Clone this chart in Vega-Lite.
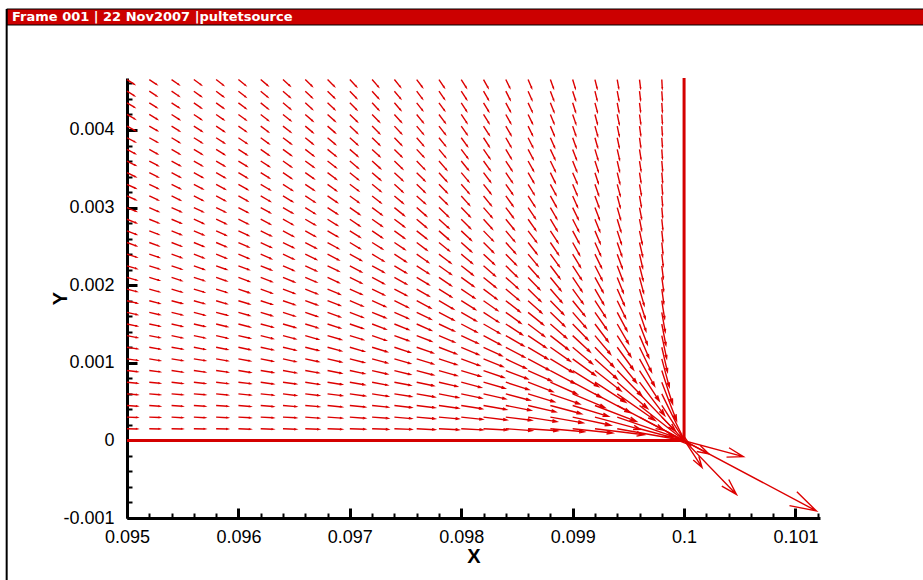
{
"$schema":"https://vega.github.io/schema/vega-lite/v6.json",
"width":693,"height":440,
"autosize":{"type":"none"},
"padding":{"left":127,"top":78,"right":103,"bottom":62},
"background":"white",
"config":{"view":{"stroke":null},"axis":{"grid":false,"labelFont":"Liberation Sans","titleFont":"Liberation Sans","labelColor":"#000","titleColor":"#000","domainColor":"#000","tickColor":"#000"}},
"datasets":{
"frame":[{"label":"Frame 001 | 22 Nov2007 |pultetsource"}],
"walls":[{"x":0.095,"y":0,"seq":1},{"x":0.1,"y":0,"seq":2},{"x":0.1,"y":0.00467,"seq":3}],
"vectors":[
{"x":0.095,"y":0.00015,"dir":1,"mag":11.8},{"x":0.095,"y":0.0003,"dir":2,"mag":11.8},{"x":0.095,"y":0.00045,"dir":4,"mag":11.8},{"x":0.095,"y":0.0006,"dir":5,"mag":11.8},{"x":0.095,"y":0.00075,"dir":6,"mag":11.8},{"x":0.095,"y":0.0009,"dir":7,"mag":11.8},{"x":0.095,"y":0.00105,"dir":8,"mag":11.8},{"x":0.095,"y":0.0012,"dir":9,"mag":11.8},{"x":0.095,"y":0.00135,"dir":11,"mag":11.6},{"x":0.095,"y":0.0015,"dir":12,"mag":11.6},{"x":0.095,"y":0.00165,"dir":13,"mag":11.6},{"x":0.095,"y":0.0018,"dir":14,"mag":11.6},{"x":0.095,"y":0.00195,"dir":15,"mag":11.3},{"x":0.095,"y":0.0021,"dir":16,"mag":11.3},{"x":0.095,"y":0.00225,"dir":17,"mag":11.3},{"x":0.095,"y":0.0024,"dir":18,"mag":11.3},{"x":0.095,"y":0.00255,"dir":20,"mag":11},{"x":0.095,"y":0.0027,"dir":21,"mag":11},{"x":0.095,"y":0.00285,"dir":22,"mag":11},{"x":0.095,"y":0.003,"dir":23,"mag":11},{"x":0.095,"y":0.00315,"dir":24,"mag":10.7},{"x":0.095,"y":0.0033,"dir":25,"mag":10.7},{"x":0.095,"y":0.00345,"dir":26,"mag":10.7},{"x":0.095,"y":0.0036,"dir":27,"mag":10.7},{"x":0.095,"y":0.00375,"dir":28,"mag":10.3},{"x":0.095,"y":0.0039,"dir":28,"mag":10.3},{"x":0.095,"y":0.00405,"dir":29,"mag":10.3},{"x":0.095,"y":0.0042,"dir":30,"mag":10.3},{"x":0.095,"y":0.00435,"dir":31,"mag":9.8},{"x":0.095,"y":0.0045,"dir":32,"mag":9.8},{"x":0.095,"y":0.00465,"dir":33,"mag":9.8},
{"x":0.0952,"y":0.00015,"dir":1,"mag":12.1},{"x":0.0952,"y":0.0003,"dir":2,"mag":12.1},{"x":0.0952,"y":0.00045,"dir":4,"mag":12.1},{"x":0.0952,"y":0.0006,"dir":5,"mag":12.1},{"x":0.0952,"y":0.00075,"dir":6,"mag":12.1},{"x":0.0952,"y":0.0009,"dir":7,"mag":12.1},{"x":0.0952,"y":0.00105,"dir":9,"mag":12.1},{"x":0.0952,"y":0.0012,"dir":10,"mag":12.1},{"x":0.0952,"y":0.00135,"dir":11,"mag":11.9},{"x":0.0952,"y":0.0015,"dir":12,"mag":11.9},{"x":0.0952,"y":0.00165,"dir":13,"mag":11.9},{"x":0.0952,"y":0.0018,"dir":15,"mag":11.9},{"x":0.0952,"y":0.00195,"dir":16,"mag":11.6},{"x":0.0952,"y":0.0021,"dir":17,"mag":11.6},{"x":0.0952,"y":0.00225,"dir":18,"mag":11.6},{"x":0.0952,"y":0.0024,"dir":19,"mag":11.6},{"x":0.0952,"y":0.00255,"dir":20,"mag":11.2},{"x":0.0952,"y":0.0027,"dir":21,"mag":11.2},{"x":0.0952,"y":0.00285,"dir":22,"mag":11.2},{"x":0.0952,"y":0.003,"dir":24,"mag":11.2},{"x":0.0952,"y":0.00315,"dir":25,"mag":10.9},{"x":0.0952,"y":0.0033,"dir":26,"mag":10.9},{"x":0.0952,"y":0.00345,"dir":27,"mag":10.9},{"x":0.0952,"y":0.0036,"dir":28,"mag":10.9},{"x":0.0952,"y":0.00375,"dir":29,"mag":10.4},{"x":0.0952,"y":0.0039,"dir":29,"mag":10.4},{"x":0.0952,"y":0.00405,"dir":30,"mag":10.4},{"x":0.0952,"y":0.0042,"dir":31,"mag":10.4},{"x":0.0952,"y":0.00435,"dir":32,"mag":9.9},{"x":0.0952,"y":0.0045,"dir":33,"mag":9.9},{"x":0.0952,"y":0.00465,"dir":34,"mag":9.9},
{"x":0.0954,"y":0.00015,"dir":1,"mag":12.4},{"x":0.0954,"y":0.0003,"dir":3,"mag":12.4},{"x":0.0954,"y":0.00045,"dir":4,"mag":12.4},{"x":0.0954,"y":0.0006,"dir":5,"mag":12.4},{"x":0.0954,"y":0.00075,"dir":7,"mag":12.4},{"x":0.0954,"y":0.0009,"dir":8,"mag":12.4},{"x":0.0954,"y":0.00105,"dir":9,"mag":12.4},{"x":0.0954,"y":0.0012,"dir":10,"mag":12.4},{"x":0.0954,"y":0.00135,"dir":12,"mag":12.2},{"x":0.0954,"y":0.0015,"dir":13,"mag":12.2},{"x":0.0954,"y":0.00165,"dir":14,"mag":12.2},{"x":0.0954,"y":0.0018,"dir":15,"mag":12.2},{"x":0.0954,"y":0.00195,"dir":17,"mag":11.8},{"x":0.0954,"y":0.0021,"dir":18,"mag":11.8},{"x":0.0954,"y":0.00225,"dir":19,"mag":11.8},{"x":0.0954,"y":0.0024,"dir":20,"mag":11.8},{"x":0.0954,"y":0.00255,"dir":21,"mag":11.4},{"x":0.0954,"y":0.0027,"dir":22,"mag":11.4},{"x":0.0954,"y":0.00285,"dir":23,"mag":11.4},{"x":0.0954,"y":0.003,"dir":24,"mag":11.4},{"x":0.0954,"y":0.00315,"dir":26,"mag":10.9},{"x":0.0954,"y":0.0033,"dir":27,"mag":10.9},{"x":0.0954,"y":0.00345,"dir":28,"mag":10.9},{"x":0.0954,"y":0.0036,"dir":29,"mag":10.9},{"x":0.0954,"y":0.00375,"dir":30,"mag":10.4},{"x":0.0954,"y":0.0039,"dir":31,"mag":10.4},{"x":0.0954,"y":0.00405,"dir":32,"mag":10.4},{"x":0.0954,"y":0.0042,"dir":33,"mag":10.4},{"x":0.0954,"y":0.00435,"dir":33,"mag":10},{"x":0.0954,"y":0.0045,"dir":34,"mag":10},{"x":0.0954,"y":0.00465,"dir":35,"mag":10},
{"x":0.0956,"y":0.00015,"dir":1,"mag":12.8},{"x":0.0956,"y":0.0003,"dir":3,"mag":12.8},{"x":0.0956,"y":0.00045,"dir":4,"mag":12.8},{"x":0.0956,"y":0.0006,"dir":5,"mag":12.8},{"x":0.0956,"y":0.00075,"dir":7,"mag":12.8},{"x":0.0956,"y":0.0009,"dir":8,"mag":12.8},{"x":0.0956,"y":0.00105,"dir":9,"mag":12.8},{"x":0.0956,"y":0.0012,"dir":11,"mag":12.5},{"x":0.0956,"y":0.00135,"dir":12,"mag":12.5},{"x":0.0956,"y":0.0015,"dir":13,"mag":12.5},{"x":0.0956,"y":0.00165,"dir":15,"mag":12.5},{"x":0.0956,"y":0.0018,"dir":16,"mag":12.1},{"x":0.0956,"y":0.00195,"dir":17,"mag":12.1},{"x":0.0956,"y":0.0021,"dir":18,"mag":12.1},{"x":0.0956,"y":0.00225,"dir":20,"mag":12.1},{"x":0.0956,"y":0.0024,"dir":21,"mag":11.7},{"x":0.0956,"y":0.00255,"dir":22,"mag":11.7},{"x":0.0956,"y":0.0027,"dir":23,"mag":11.7},{"x":0.0956,"y":0.00285,"dir":24,"mag":11.7},{"x":0.0956,"y":0.003,"dir":25,"mag":11.2},{"x":0.0956,"y":0.00315,"dir":27,"mag":11.2},{"x":0.0956,"y":0.0033,"dir":28,"mag":11.2},{"x":0.0956,"y":0.00345,"dir":29,"mag":11.2},{"x":0.0956,"y":0.0036,"dir":30,"mag":10.7},{"x":0.0956,"y":0.00375,"dir":31,"mag":10.7},{"x":0.0956,"y":0.0039,"dir":32,"mag":10.7},{"x":0.0956,"y":0.00405,"dir":33,"mag":10.7},{"x":0.0956,"y":0.0042,"dir":34,"mag":10.2},{"x":0.0956,"y":0.00435,"dir":35,"mag":10.2},{"x":0.0956,"y":0.0045,"dir":36,"mag":10.2},{"x":0.0956,"y":0.00465,"dir":36,"mag":10.2},
{"x":0.0958,"y":0.00015,"dir":1,"mag":13.2},{"x":0.0958,"y":0.0003,"dir":3,"mag":13.2},{"x":0.0958,"y":0.00045,"dir":4,"mag":13.2},{"x":0.0958,"y":0.0006,"dir":6,"mag":13.2},{"x":0.0958,"y":0.00075,"dir":7,"mag":13.2},{"x":0.0958,"y":0.0009,"dir":8,"mag":13.2},{"x":0.0958,"y":0.00105,"dir":10,"mag":13.2},{"x":0.0958,"y":0.0012,"dir":11,"mag":12.9},{"x":0.0958,"y":0.00135,"dir":13,"mag":12.9},{"x":0.0958,"y":0.0015,"dir":14,"mag":12.9},{"x":0.0958,"y":0.00165,"dir":15,"mag":12.9},{"x":0.0958,"y":0.0018,"dir":17,"mag":12.4},{"x":0.0958,"y":0.00195,"dir":18,"mag":12.4},{"x":0.0958,"y":0.0021,"dir":19,"mag":12.4},{"x":0.0958,"y":0.00225,"dir":20,"mag":12.4},{"x":0.0958,"y":0.0024,"dir":22,"mag":12},{"x":0.0958,"y":0.00255,"dir":23,"mag":12},{"x":0.0958,"y":0.0027,"dir":24,"mag":12},{"x":0.0958,"y":0.00285,"dir":25,"mag":12},{"x":0.0958,"y":0.003,"dir":26,"mag":11.4},{"x":0.0958,"y":0.00315,"dir":28,"mag":11.4},{"x":0.0958,"y":0.0033,"dir":29,"mag":11.4},{"x":0.0958,"y":0.00345,"dir":30,"mag":11.4},{"x":0.0958,"y":0.0036,"dir":31,"mag":10.9},{"x":0.0958,"y":0.00375,"dir":32,"mag":10.9},{"x":0.0958,"y":0.0039,"dir":33,"mag":10.9},{"x":0.0958,"y":0.00405,"dir":34,"mag":10.9},{"x":0.0958,"y":0.0042,"dir":35,"mag":10.3},{"x":0.0958,"y":0.00435,"dir":36,"mag":10.3},{"x":0.0958,"y":0.0045,"dir":37,"mag":10.3},{"x":0.0958,"y":0.00465,"dir":38,"mag":10.3},
{"x":0.096,"y":0.00015,"dir":2,"mag":13.7},{"x":0.096,"y":0.0003,"dir":3,"mag":13.7},{"x":0.096,"y":0.00045,"dir":5,"mag":13.7},{"x":0.096,"y":0.0006,"dir":6,"mag":13.7},{"x":0.096,"y":0.00075,"dir":7,"mag":13.7},{"x":0.096,"y":0.0009,"dir":9,"mag":13.7},{"x":0.096,"y":0.00105,"dir":10,"mag":13.4},{"x":0.096,"y":0.0012,"dir":12,"mag":13.4},{"x":0.096,"y":0.00135,"dir":13,"mag":13.4},{"x":0.096,"y":0.0015,"dir":15,"mag":13.4},{"x":0.096,"y":0.00165,"dir":16,"mag":12.9},{"x":0.096,"y":0.0018,"dir":17,"mag":12.9},{"x":0.096,"y":0.00195,"dir":19,"mag":12.9},{"x":0.096,"y":0.0021,"dir":20,"mag":12.9},{"x":0.096,"y":0.00225,"dir":21,"mag":12.4},{"x":0.096,"y":0.0024,"dir":23,"mag":12.4},{"x":0.096,"y":0.00255,"dir":24,"mag":12.4},{"x":0.096,"y":0.0027,"dir":25,"mag":12.4},{"x":0.096,"y":0.00285,"dir":26,"mag":11.8},{"x":0.096,"y":0.003,"dir":28,"mag":11.8},{"x":0.096,"y":0.00315,"dir":29,"mag":11.8},{"x":0.096,"y":0.0033,"dir":30,"mag":11.8},{"x":0.096,"y":0.00345,"dir":31,"mag":11.2},{"x":0.096,"y":0.0036,"dir":32,"mag":11.2},{"x":0.096,"y":0.00375,"dir":33,"mag":11.2},{"x":0.096,"y":0.0039,"dir":34,"mag":11.2},{"x":0.096,"y":0.00405,"dir":35,"mag":10.4},{"x":0.096,"y":0.0042,"dir":36,"mag":10.4},{"x":0.096,"y":0.00435,"dir":37,"mag":10.4},{"x":0.096,"y":0.0045,"dir":38,"mag":10.4},{"x":0.096,"y":0.00465,"dir":39,"mag":10.4},
{"x":0.0962,"y":0.00015,"dir":2,"mag":14.2},{"x":0.0962,"y":0.0003,"dir":3,"mag":14.2},{"x":0.0962,"y":0.00045,"dir":5,"mag":14.2},{"x":0.0962,"y":0.0006,"dir":6,"mag":14.2},{"x":0.0962,"y":0.00075,"dir":8,"mag":14.2},{"x":0.0962,"y":0.0009,"dir":9,"mag":14.2},{"x":0.0962,"y":0.00105,"dir":11,"mag":13.9},{"x":0.0962,"y":0.0012,"dir":12,"mag":13.9},{"x":0.0962,"y":0.00135,"dir":14,"mag":13.9},{"x":0.0962,"y":0.0015,"dir":15,"mag":13.9},{"x":0.0962,"y":0.00165,"dir":17,"mag":13.3},{"x":0.0962,"y":0.0018,"dir":18,"mag":13.3},{"x":0.0962,"y":0.00195,"dir":20,"mag":13.3},{"x":0.0962,"y":0.0021,"dir":21,"mag":13.3},{"x":0.0962,"y":0.00225,"dir":22,"mag":12.8},{"x":0.0962,"y":0.0024,"dir":24,"mag":12.8},{"x":0.0962,"y":0.00255,"dir":25,"mag":12.8},{"x":0.0962,"y":0.0027,"dir":26,"mag":12.8},{"x":0.0962,"y":0.00285,"dir":28,"mag":12.1},{"x":0.0962,"y":0.003,"dir":29,"mag":12.1},{"x":0.0962,"y":0.00315,"dir":30,"mag":12.1},{"x":0.0962,"y":0.0033,"dir":31,"mag":12.1},{"x":0.0962,"y":0.00345,"dir":32,"mag":11.4},{"x":0.0962,"y":0.0036,"dir":33,"mag":11.4},{"x":0.0962,"y":0.00375,"dir":35,"mag":11.4},{"x":0.0962,"y":0.0039,"dir":36,"mag":11.4},{"x":0.0962,"y":0.00405,"dir":37,"mag":10.8},{"x":0.0962,"y":0.0042,"dir":38,"mag":10.8},{"x":0.0962,"y":0.00435,"dir":39,"mag":10.8},{"x":0.0962,"y":0.0045,"dir":40,"mag":10.4},{"x":0.0962,"y":0.00465,"dir":40,"mag":10.4},
{"x":0.0964,"y":0.00015,"dir":2,"mag":14.8},{"x":0.0964,"y":0.0003,"dir":3,"mag":14.8},{"x":0.0964,"y":0.00045,"dir":5,"mag":14.8},{"x":0.0964,"y":0.0006,"dir":7,"mag":14.8},{"x":0.0964,"y":0.00075,"dir":8,"mag":14.8},{"x":0.0964,"y":0.0009,"dir":10,"mag":14.8},{"x":0.0964,"y":0.00105,"dir":12,"mag":14.4},{"x":0.0964,"y":0.0012,"dir":13,"mag":14.4},{"x":0.0964,"y":0.00135,"dir":15,"mag":14.4},{"x":0.0964,"y":0.0015,"dir":16,"mag":14.4},{"x":0.0964,"y":0.00165,"dir":18,"mag":13.8},{"x":0.0964,"y":0.0018,"dir":19,"mag":13.8},{"x":0.0964,"y":0.00195,"dir":21,"mag":13.8},{"x":0.0964,"y":0.0021,"dir":22,"mag":13.8},{"x":0.0964,"y":0.00225,"dir":24,"mag":13.1},{"x":0.0964,"y":0.0024,"dir":25,"mag":13.1},{"x":0.0964,"y":0.00255,"dir":26,"mag":13.1},{"x":0.0964,"y":0.0027,"dir":28,"mag":13.1},{"x":0.0964,"y":0.00285,"dir":29,"mag":12.4},{"x":0.0964,"y":0.003,"dir":30,"mag":12.4},{"x":0.0964,"y":0.00315,"dir":31,"mag":12.4},{"x":0.0964,"y":0.0033,"dir":33,"mag":12.4},{"x":0.0964,"y":0.00345,"dir":34,"mag":11.6},{"x":0.0964,"y":0.0036,"dir":35,"mag":11.6},{"x":0.0964,"y":0.00375,"dir":36,"mag":11.6},{"x":0.0964,"y":0.0039,"dir":37,"mag":11.6},{"x":0.0964,"y":0.00405,"dir":38,"mag":11},{"x":0.0964,"y":0.0042,"dir":39,"mag":11},{"x":0.0964,"y":0.00435,"dir":40,"mag":11},{"x":0.0964,"y":0.0045,"dir":41,"mag":10.5},{"x":0.0964,"y":0.00465,"dir":42,"mag":10.5},
{"x":0.0966,"y":0.00015,"dir":2,"mag":15.5},{"x":0.0966,"y":0.0003,"dir":4,"mag":15.5},{"x":0.0966,"y":0.00045,"dir":5,"mag":15.5},{"x":0.0966,"y":0.0006,"dir":7,"mag":15.5},{"x":0.0966,"y":0.00075,"dir":9,"mag":15.5},{"x":0.0966,"y":0.0009,"dir":10,"mag":15.1},{"x":0.0966,"y":0.00105,"dir":12,"mag":15.1},{"x":0.0966,"y":0.0012,"dir":14,"mag":15.1},{"x":0.0966,"y":0.00135,"dir":16,"mag":15.1},{"x":0.0966,"y":0.0015,"dir":17,"mag":14.3},{"x":0.0966,"y":0.00165,"dir":19,"mag":14.3},{"x":0.0966,"y":0.0018,"dir":20,"mag":14.3},{"x":0.0966,"y":0.00195,"dir":22,"mag":14.3},{"x":0.0966,"y":0.0021,"dir":23,"mag":13.6},{"x":0.0966,"y":0.00225,"dir":25,"mag":13.6},{"x":0.0966,"y":0.0024,"dir":26,"mag":13.6},{"x":0.0966,"y":0.00255,"dir":28,"mag":13.6},{"x":0.0966,"y":0.0027,"dir":29,"mag":12.7},{"x":0.0966,"y":0.00285,"dir":30,"mag":12.7},{"x":0.0966,"y":0.003,"dir":32,"mag":12.7},{"x":0.0966,"y":0.00315,"dir":33,"mag":12.7},{"x":0.0966,"y":0.0033,"dir":34,"mag":11.9},{"x":0.0966,"y":0.00345,"dir":35,"mag":11.9},{"x":0.0966,"y":0.0036,"dir":36,"mag":11.9},{"x":0.0966,"y":0.00375,"dir":38,"mag":11.9},{"x":0.0966,"y":0.0039,"dir":39,"mag":11.2},{"x":0.0966,"y":0.00405,"dir":40,"mag":11.2},{"x":0.0966,"y":0.0042,"dir":41,"mag":11.2},{"x":0.0966,"y":0.00435,"dir":42,"mag":10.6},{"x":0.0966,"y":0.0045,"dir":43,"mag":10.6},{"x":0.0966,"y":0.00465,"dir":44,"mag":10.6},
{"x":0.0968,"y":0.00015,"dir":2,"mag":16.2},{"x":0.0968,"y":0.0003,"dir":4,"mag":16.2},{"x":0.0968,"y":0.00045,"dir":6,"mag":16.2},{"x":0.0968,"y":0.0006,"dir":7,"mag":16.2},{"x":0.0968,"y":0.00075,"dir":9,"mag":16.2},{"x":0.0968,"y":0.0009,"dir":11,"mag":15.7},{"x":0.0968,"y":0.00105,"dir":13,"mag":15.7},{"x":0.0968,"y":0.0012,"dir":15,"mag":15.7},{"x":0.0968,"y":0.00135,"dir":16,"mag":15.7},{"x":0.0968,"y":0.0015,"dir":18,"mag":14.9},{"x":0.0968,"y":0.00165,"dir":20,"mag":14.9},{"x":0.0968,"y":0.0018,"dir":21,"mag":14.9},{"x":0.0968,"y":0.00195,"dir":23,"mag":14.9},{"x":0.0968,"y":0.0021,"dir":25,"mag":14},{"x":0.0968,"y":0.00225,"dir":26,"mag":14},{"x":0.0968,"y":0.0024,"dir":28,"mag":14},{"x":0.0968,"y":0.00255,"dir":29,"mag":14},{"x":0.0968,"y":0.0027,"dir":30,"mag":13},{"x":0.0968,"y":0.00285,"dir":32,"mag":13},{"x":0.0968,"y":0.003,"dir":33,"mag":13},{"x":0.0968,"y":0.00315,"dir":34,"mag":13},{"x":0.0968,"y":0.0033,"dir":36,"mag":12.1},{"x":0.0968,"y":0.00345,"dir":37,"mag":12.1},{"x":0.0968,"y":0.0036,"dir":38,"mag":12.1},{"x":0.0968,"y":0.00375,"dir":39,"mag":12.1},{"x":0.0968,"y":0.0039,"dir":40,"mag":11.4},{"x":0.0968,"y":0.00405,"dir":41,"mag":11.4},{"x":0.0968,"y":0.0042,"dir":42,"mag":11.4},{"x":0.0968,"y":0.00435,"dir":43,"mag":10.8},{"x":0.0968,"y":0.0045,"dir":44,"mag":10.8},{"x":0.0968,"y":0.00465,"dir":45,"mag":10.8},
{"x":0.097,"y":0.00015,"dir":2,"mag":17.1},{"x":0.097,"y":0.0003,"dir":4,"mag":17.1},{"x":0.097,"y":0.00045,"dir":6,"mag":17.1},{"x":0.097,"y":0.0006,"dir":8,"mag":17.1},{"x":0.097,"y":0.00075,"dir":10,"mag":16.5},{"x":0.097,"y":0.0009,"dir":12,"mag":16.5},{"x":0.097,"y":0.00105,"dir":14,"mag":16.5},{"x":0.097,"y":0.0012,"dir":16,"mag":16.5},{"x":0.097,"y":0.00135,"dir":17,"mag":15.6},{"x":0.097,"y":0.0015,"dir":19,"mag":15.6},{"x":0.097,"y":0.00165,"dir":21,"mag":15.6},{"x":0.097,"y":0.0018,"dir":23,"mag":15.6},{"x":0.097,"y":0.00195,"dir":24,"mag":14.6},{"x":0.097,"y":0.0021,"dir":26,"mag":14.6},{"x":0.097,"y":0.00225,"dir":28,"mag":14.6},{"x":0.097,"y":0.0024,"dir":29,"mag":14.6},{"x":0.097,"y":0.00255,"dir":31,"mag":13.4},{"x":0.097,"y":0.0027,"dir":32,"mag":13.4},{"x":0.097,"y":0.00285,"dir":34,"mag":13.4},{"x":0.097,"y":0.003,"dir":35,"mag":13.4},{"x":0.097,"y":0.00315,"dir":36,"mag":12.3},{"x":0.097,"y":0.0033,"dir":37,"mag":12.3},{"x":0.097,"y":0.00345,"dir":39,"mag":12.3},{"x":0.097,"y":0.0036,"dir":40,"mag":12.3},{"x":0.097,"y":0.00375,"dir":41,"mag":11.6},{"x":0.097,"y":0.0039,"dir":42,"mag":11.6},{"x":0.097,"y":0.00405,"dir":43,"mag":11.6},{"x":0.097,"y":0.0042,"dir":44,"mag":11.6},{"x":0.097,"y":0.00435,"dir":45,"mag":10.9},{"x":0.097,"y":0.0045,"dir":46,"mag":10.9},{"x":0.097,"y":0.00465,"dir":47,"mag":10.9},
{"x":0.0972,"y":0.00015,"dir":2,"mag":17.9},{"x":0.0972,"y":0.0003,"dir":4,"mag":17.9},{"x":0.0972,"y":0.00045,"dir":6,"mag":17.9},{"x":0.0972,"y":0.0006,"dir":9,"mag":17.9},{"x":0.0972,"y":0.00075,"dir":11,"mag":17.3},{"x":0.0972,"y":0.0009,"dir":13,"mag":17.3},{"x":0.0972,"y":0.00105,"dir":15,"mag":17.3},{"x":0.0972,"y":0.0012,"dir":17,"mag":17.3},{"x":0.0972,"y":0.00135,"dir":19,"mag":16.2},{"x":0.0972,"y":0.0015,"dir":21,"mag":16.2},{"x":0.0972,"y":0.00165,"dir":22,"mag":16.2},{"x":0.0972,"y":0.0018,"dir":24,"mag":16.2},{"x":0.0972,"y":0.00195,"dir":26,"mag":15},{"x":0.0972,"y":0.0021,"dir":28,"mag":15},{"x":0.0972,"y":0.00225,"dir":29,"mag":15},{"x":0.0972,"y":0.0024,"dir":31,"mag":15},{"x":0.0972,"y":0.00255,"dir":32,"mag":13.6},{"x":0.0972,"y":0.0027,"dir":34,"mag":13.6},{"x":0.0972,"y":0.00285,"dir":35,"mag":13.6},{"x":0.0972,"y":0.003,"dir":37,"mag":13.6},{"x":0.0972,"y":0.00315,"dir":38,"mag":12.5},{"x":0.0972,"y":0.0033,"dir":39,"mag":12.5},{"x":0.0972,"y":0.00345,"dir":41,"mag":12.5},{"x":0.0972,"y":0.0036,"dir":42,"mag":12.5},{"x":0.0972,"y":0.00375,"dir":43,"mag":11.6},{"x":0.0972,"y":0.0039,"dir":44,"mag":11.6},{"x":0.0972,"y":0.00405,"dir":45,"mag":11.6},{"x":0.0972,"y":0.0042,"dir":46,"mag":11.6},{"x":0.0972,"y":0.00435,"dir":47,"mag":10.8},{"x":0.0972,"y":0.0045,"dir":48,"mag":10.8},{"x":0.0972,"y":0.00465,"dir":49,"mag":10.8},
{"x":0.0974,"y":0.00015,"dir":2,"mag":19},{"x":0.0974,"y":0.0003,"dir":5,"mag":19},{"x":0.0974,"y":0.00045,"dir":7,"mag":19},{"x":0.0974,"y":0.0006,"dir":9,"mag":19},{"x":0.0974,"y":0.00075,"dir":11,"mag":18.2},{"x":0.0974,"y":0.0009,"dir":14,"mag":18.2},{"x":0.0974,"y":0.00105,"dir":16,"mag":18.2},{"x":0.0974,"y":0.0012,"dir":18,"mag":18.2},{"x":0.0974,"y":0.00135,"dir":20,"mag":16.9},{"x":0.0974,"y":0.0015,"dir":22,"mag":16.9},{"x":0.0974,"y":0.00165,"dir":24,"mag":16.9},{"x":0.0974,"y":0.0018,"dir":26,"mag":16.9},{"x":0.0974,"y":0.00195,"dir":28,"mag":15.4},{"x":0.0974,"y":0.0021,"dir":29,"mag":15.4},{"x":0.0974,"y":0.00225,"dir":31,"mag":15.4},{"x":0.0974,"y":0.0024,"dir":33,"mag":15.4},{"x":0.0974,"y":0.00255,"dir":34,"mag":14},{"x":0.0974,"y":0.0027,"dir":36,"mag":14},{"x":0.0974,"y":0.00285,"dir":37,"mag":14},{"x":0.0974,"y":0.003,"dir":39,"mag":14},{"x":0.0974,"y":0.00315,"dir":40,"mag":12.7},{"x":0.0974,"y":0.0033,"dir":42,"mag":12.7},{"x":0.0974,"y":0.00345,"dir":43,"mag":12.7},{"x":0.0974,"y":0.0036,"dir":44,"mag":12.7},{"x":0.0974,"y":0.00375,"dir":45,"mag":11.6},{"x":0.0974,"y":0.0039,"dir":46,"mag":11.6},{"x":0.0974,"y":0.00405,"dir":47,"mag":11.6},{"x":0.0974,"y":0.0042,"dir":48,"mag":11.6},{"x":0.0974,"y":0.00435,"dir":49,"mag":10.8},{"x":0.0974,"y":0.0045,"dir":50,"mag":10.8},{"x":0.0974,"y":0.00465,"dir":51,"mag":10.8},
{"x":0.0976,"y":0.00015,"dir":3,"mag":20.2},{"x":0.0976,"y":0.0003,"dir":5,"mag":20.2},{"x":0.0976,"y":0.00045,"dir":7,"mag":20.2},{"x":0.0976,"y":0.0006,"dir":10,"mag":20.2},{"x":0.0976,"y":0.00075,"dir":12,"mag":19.1},{"x":0.0976,"y":0.0009,"dir":15,"mag":19.1},{"x":0.0976,"y":0.00105,"dir":17,"mag":19.1},{"x":0.0976,"y":0.0012,"dir":19,"mag":19.1},{"x":0.0976,"y":0.00135,"dir":21,"mag":17.6},{"x":0.0976,"y":0.0015,"dir":24,"mag":17.6},{"x":0.0976,"y":0.00165,"dir":26,"mag":17.6},{"x":0.0976,"y":0.0018,"dir":28,"mag":17.6},{"x":0.0976,"y":0.00195,"dir":30,"mag":15.9},{"x":0.0976,"y":0.0021,"dir":31,"mag":15.9},{"x":0.0976,"y":0.00225,"dir":33,"mag":15.9},{"x":0.0976,"y":0.0024,"dir":35,"mag":15.9},{"x":0.0976,"y":0.00255,"dir":37,"mag":14.3},{"x":0.0976,"y":0.0027,"dir":38,"mag":14.3},{"x":0.0976,"y":0.00285,"dir":40,"mag":14.3},{"x":0.0976,"y":0.003,"dir":41,"mag":14.3},{"x":0.0976,"y":0.00315,"dir":42,"mag":12.8},{"x":0.0976,"y":0.0033,"dir":44,"mag":12.8},{"x":0.0976,"y":0.00345,"dir":45,"mag":12.8},{"x":0.0976,"y":0.0036,"dir":46,"mag":12.8},{"x":0.0976,"y":0.00375,"dir":47,"mag":11.6},{"x":0.0976,"y":0.0039,"dir":49,"mag":11.6},{"x":0.0976,"y":0.00405,"dir":50,"mag":11.6},{"x":0.0976,"y":0.0042,"dir":51,"mag":11.6},{"x":0.0976,"y":0.00435,"dir":52,"mag":10.7},{"x":0.0976,"y":0.0045,"dir":53,"mag":10.7},{"x":0.0976,"y":0.00465,"dir":53,"mag":10.7},
{"x":0.0978,"y":0.00015,"dir":3,"mag":21.7},{"x":0.0978,"y":0.0003,"dir":5,"mag":21.7},{"x":0.0978,"y":0.00045,"dir":8,"mag":21.7},{"x":0.0978,"y":0.0006,"dir":11,"mag":21.7},{"x":0.0978,"y":0.00075,"dir":13,"mag":20.5},{"x":0.0978,"y":0.0009,"dir":16,"mag":20.5},{"x":0.0978,"y":0.00105,"dir":18,"mag":20.5},{"x":0.0978,"y":0.0012,"dir":21,"mag":20.5},{"x":0.0978,"y":0.00135,"dir":23,"mag":18.6},{"x":0.0978,"y":0.0015,"dir":25,"mag":18.6},{"x":0.0978,"y":0.00165,"dir":28,"mag":18.6},{"x":0.0978,"y":0.0018,"dir":30,"mag":18.6},{"x":0.0978,"y":0.00195,"dir":32,"mag":16.5},{"x":0.0978,"y":0.0021,"dir":34,"mag":16.5},{"x":0.0978,"y":0.00225,"dir":35,"mag":16.5},{"x":0.0978,"y":0.0024,"dir":37,"mag":16.5},{"x":0.0978,"y":0.00255,"dir":39,"mag":14.7},{"x":0.0978,"y":0.0027,"dir":41,"mag":14.7},{"x":0.0978,"y":0.00285,"dir":42,"mag":14.7},{"x":0.0978,"y":0.003,"dir":44,"mag":14.7},{"x":0.0978,"y":0.00315,"dir":45,"mag":13},{"x":0.0978,"y":0.0033,"dir":46,"mag":13},{"x":0.0978,"y":0.00345,"dir":48,"mag":13},{"x":0.0978,"y":0.0036,"dir":49,"mag":13},{"x":0.0978,"y":0.00375,"dir":50,"mag":11.6},{"x":0.0978,"y":0.0039,"dir":51,"mag":11.6},{"x":0.0978,"y":0.00405,"dir":52,"mag":11.6},{"x":0.0978,"y":0.0042,"dir":53,"mag":11.6},{"x":0.0978,"y":0.00435,"dir":54,"mag":10.7},{"x":0.0978,"y":0.0045,"dir":55,"mag":10.7},{"x":0.0978,"y":0.00465,"dir":56,"mag":10.7},
{"x":0.098,"y":0.00015,"dir":3,"mag":23.6},{"x":0.098,"y":0.0003,"dir":6,"mag":23.5},{"x":0.098,"y":0.00045,"dir":9,"mag":23.2},{"x":0.098,"y":0.0006,"dir":12,"mag":22.9},{"x":0.098,"y":0.00075,"dir":15,"mag":22.4},{"x":0.098,"y":0.0009,"dir":17,"mag":22.1},{"x":0.098,"y":0.00105,"dir":20,"mag":21.5},{"x":0.098,"y":0.0012,"dir":23,"mag":20.8},{"x":0.098,"y":0.00135,"dir":25,"mag":20.3},{"x":0.098,"y":0.0015,"dir":28,"mag":19.5},{"x":0.098,"y":0.00165,"dir":30,"mag":19},{"x":0.098,"y":0.0018,"dir":32,"mag":18.4},{"x":0.098,"y":0.00195,"dir":34,"mag":17.8},{"x":0.098,"y":0.0021,"dir":36,"mag":17.2},{"x":0.098,"y":0.00225,"dir":38,"mag":16.6},{"x":0.098,"y":0.0024,"dir":40,"mag":16},{"x":0.098,"y":0.00255,"dir":42,"mag":15.4},{"x":0.098,"y":0.0027,"dir":43,"mag":15.1},{"x":0.098,"y":0.00285,"dir":45,"mag":14.5},{"x":0.098,"y":0.003,"dir":46,"mag":14.2},{"x":0.098,"y":0.00315,"dir":48,"mag":13.6},{"x":0.098,"y":0.0033,"dir":49,"mag":13.3},{"x":0.098,"y":0.00345,"dir":50,"mag":13},{"x":0.098,"y":0.0036,"dir":51,"mag":12.7},{"x":0.098,"y":0.00375,"dir":53,"mag":12.1},{"x":0.098,"y":0.0039,"dir":54,"mag":11.8},{"x":0.098,"y":0.00405,"dir":55,"mag":11.5},{"x":0.098,"y":0.0042,"dir":56,"mag":11.3},{"x":0.098,"y":0.00435,"dir":57,"mag":11},{"x":0.098,"y":0.0045,"dir":57,"mag":11},{"x":0.098,"y":0.00465,"dir":58,"mag":10.7},
{"x":0.0982,"y":0.00015,"dir":3,"mag":25.8},{"x":0.0982,"y":0.0003,"dir":7,"mag":25.6},{"x":0.0982,"y":0.00045,"dir":10,"mag":25.3},{"x":0.0982,"y":0.0006,"dir":13,"mag":24.8},{"x":0.0982,"y":0.00075,"dir":16,"mag":24.3},{"x":0.0982,"y":0.0009,"dir":19,"mag":23.6},{"x":0.0982,"y":0.00105,"dir":22,"mag":22.9},{"x":0.0982,"y":0.0012,"dir":25,"mag":22.1},{"x":0.0982,"y":0.00135,"dir":28,"mag":21.2},{"x":0.0982,"y":0.0015,"dir":30,"mag":20.6},{"x":0.0982,"y":0.00165,"dir":33,"mag":19.7},{"x":0.0982,"y":0.0018,"dir":35,"mag":19},{"x":0.0982,"y":0.00195,"dir":37,"mag":18.4},{"x":0.0982,"y":0.0021,"dir":39,"mag":17.7},{"x":0.0982,"y":0.00225,"dir":41,"mag":17},{"x":0.0982,"y":0.0024,"dir":43,"mag":16.3},{"x":0.0982,"y":0.00255,"dir":45,"mag":15.6},{"x":0.0982,"y":0.0027,"dir":46,"mag":15.3},{"x":0.0982,"y":0.00285,"dir":48,"mag":14.6},{"x":0.0982,"y":0.003,"dir":49,"mag":14.3},{"x":0.0982,"y":0.00315,"dir":51,"mag":13.7},{"x":0.0982,"y":0.0033,"dir":52,"mag":13.3},{"x":0.0982,"y":0.00345,"dir":53,"mag":13},{"x":0.0982,"y":0.0036,"dir":54,"mag":12.7},{"x":0.0982,"y":0.00375,"dir":55,"mag":12.4},{"x":0.0982,"y":0.0039,"dir":57,"mag":11.8},{"x":0.0982,"y":0.00405,"dir":57,"mag":11.8},{"x":0.0982,"y":0.0042,"dir":58,"mag":11.5},{"x":0.0982,"y":0.00435,"dir":59,"mag":11.2},{"x":0.0982,"y":0.0045,"dir":60,"mag":10.9},{"x":0.0982,"y":0.00465,"dir":61,"mag":10.6},
{"x":0.0984,"y":0.00015,"dir":4,"mag":28.6},{"x":0.0984,"y":0.0003,"dir":7,"mag":28.3},{"x":0.0984,"y":0.00045,"dir":11,"mag":27.8},{"x":0.0984,"y":0.0006,"dir":15,"mag":27.1},{"x":0.0984,"y":0.00075,"dir":18,"mag":26.3},{"x":0.0984,"y":0.0009,"dir":21,"mag":25.6},{"x":0.0984,"y":0.00105,"dir":25,"mag":24.4},{"x":0.0984,"y":0.0012,"dir":28,"mag":23.4},{"x":0.0984,"y":0.00135,"dir":30,"mag":22.7},{"x":0.0984,"y":0.0015,"dir":33,"mag":21.6},{"x":0.0984,"y":0.00165,"dir":36,"mag":20.5},{"x":0.0984,"y":0.0018,"dir":38,"mag":19.8},{"x":0.0984,"y":0.00195,"dir":40,"mag":19},{"x":0.0984,"y":0.0021,"dir":42,"mag":18.2},{"x":0.0984,"y":0.00225,"dir":44,"mag":17.5},{"x":0.0984,"y":0.0024,"dir":46,"mag":16.7},{"x":0.0984,"y":0.00255,"dir":48,"mag":16},{"x":0.0984,"y":0.0027,"dir":50,"mag":15.2},{"x":0.0984,"y":0.00285,"dir":51,"mag":14.9},{"x":0.0984,"y":0.003,"dir":53,"mag":14.1},{"x":0.0984,"y":0.00315,"dir":54,"mag":13.7},{"x":0.0984,"y":0.0033,"dir":55,"mag":13.4},{"x":0.0984,"y":0.00345,"dir":56,"mag":13.1},{"x":0.0984,"y":0.0036,"dir":57,"mag":12.7},{"x":0.0984,"y":0.00375,"dir":59,"mag":12},{"x":0.0984,"y":0.0039,"dir":60,"mag":11.7},{"x":0.0984,"y":0.00405,"dir":60,"mag":11.7},{"x":0.0984,"y":0.0042,"dir":61,"mag":11.4},{"x":0.0984,"y":0.00435,"dir":62,"mag":11.1},{"x":0.0984,"y":0.0045,"dir":63,"mag":10.8},{"x":0.0984,"y":0.00465,"dir":64,"mag":10.4},
{"x":0.0986,"y":0.00015,"dir":4,"mag":32.1},{"x":0.0986,"y":0.0003,"dir":9,"mag":31.5},{"x":0.0986,"y":0.00045,"dir":13,"mag":30.8},{"x":0.0986,"y":0.0006,"dir":17,"mag":29.8},{"x":0.0986,"y":0.00075,"dir":21,"mag":28.7},{"x":0.0986,"y":0.0009,"dir":24,"mag":27.7},{"x":0.0986,"y":0.00105,"dir":28,"mag":26.2},{"x":0.0986,"y":0.0012,"dir":31,"mag":25},{"x":0.0986,"y":0.00135,"dir":34,"mag":23.8},{"x":0.0986,"y":0.0015,"dir":37,"mag":22.5},{"x":0.0986,"y":0.00165,"dir":39,"mag":21.6},{"x":0.0986,"y":0.0018,"dir":42,"mag":20.2},{"x":0.0986,"y":0.00195,"dir":44,"mag":19.4},{"x":0.0986,"y":0.0021,"dir":46,"mag":18.5},{"x":0.0986,"y":0.00225,"dir":48,"mag":17.7},{"x":0.0986,"y":0.0024,"dir":50,"mag":16.8},{"x":0.0986,"y":0.00255,"dir":52,"mag":16},{"x":0.0986,"y":0.0027,"dir":53,"mag":15.6},{"x":0.0986,"y":0.00285,"dir":55,"mag":14.8},{"x":0.0986,"y":0.003,"dir":56,"mag":14.4},{"x":0.0986,"y":0.00315,"dir":57,"mag":14},{"x":0.0986,"y":0.0033,"dir":59,"mag":13.2},{"x":0.0986,"y":0.00345,"dir":60,"mag":12.8},{"x":0.0986,"y":0.0036,"dir":61,"mag":12.5},{"x":0.0986,"y":0.00375,"dir":62,"mag":12.1},{"x":0.0986,"y":0.0039,"dir":63,"mag":11.8},{"x":0.0986,"y":0.00405,"dir":64,"mag":11.3},{"x":0.0986,"y":0.0042,"dir":64,"mag":11.3},{"x":0.0986,"y":0.00435,"dir":65,"mag":11},{"x":0.0986,"y":0.0045,"dir":66,"mag":10.7},{"x":0.0986,"y":0.00465,"dir":67,"mag":10.3},
{"x":0.0988,"y":0.00015,"dir":5,"mag":36.7},{"x":0.0988,"y":0.0003,"dir":10,"mag":35.9},{"x":0.0988,"y":0.00045,"dir":15,"mag":34.7},{"x":0.0988,"y":0.0006,"dir":19,"mag":33.5},{"x":0.0988,"y":0.00075,"dir":24,"mag":31.6},{"x":0.0988,"y":0.0009,"dir":28,"mag":29.8},{"x":0.0988,"y":0.00105,"dir":31,"mag":28.5},{"x":0.0988,"y":0.0012,"dir":35,"mag":26.5},{"x":0.0988,"y":0.00135,"dir":38,"mag":25.1},{"x":0.0988,"y":0.0015,"dir":41,"mag":23.5},{"x":0.0988,"y":0.00165,"dir":44,"mag":21.9},{"x":0.0988,"y":0.0018,"dir":46,"mag":21},{"x":0.0988,"y":0.00195,"dir":49,"mag":19.5},{"x":0.0988,"y":0.0021,"dir":51,"mag":18.5},{"x":0.0988,"y":0.00225,"dir":53,"mag":17.5},{"x":0.0988,"y":0.0024,"dir":54,"mag":17},{"x":0.0988,"y":0.00255,"dir":56,"mag":16.1},{"x":0.0988,"y":0.0027,"dir":57,"mag":15.6},{"x":0.0988,"y":0.00285,"dir":59,"mag":14.7},{"x":0.0988,"y":0.003,"dir":60,"mag":14.3},{"x":0.0988,"y":0.00315,"dir":61,"mag":13.9},{"x":0.0988,"y":0.0033,"dir":62,"mag":13.4},{"x":0.0988,"y":0.00345,"dir":64,"mag":12.6},{"x":0.0988,"y":0.0036,"dir":64,"mag":12.6},{"x":0.0988,"y":0.00375,"dir":65,"mag":12.2},{"x":0.0988,"y":0.0039,"dir":66,"mag":11.8},{"x":0.0988,"y":0.00405,"dir":67,"mag":11.4},{"x":0.0988,"y":0.0042,"dir":68,"mag":11},{"x":0.0988,"y":0.00435,"dir":68,"mag":11},{"x":0.0988,"y":0.0045,"dir":69,"mag":10.7},{"x":0.0988,"y":0.00465,"dir":70,"mag":10.3},
{"x":0.099,"y":0.00015,"dir":6,"mag":43.1},{"x":0.099,"y":0.0003,"dir":12,"mag":41.7},{"x":0.099,"y":0.00045,"dir":17,"mag":40.1},{"x":0.099,"y":0.0006,"dir":23,"mag":37.6},{"x":0.099,"y":0.00075,"dir":28,"mag":35},{"x":0.099,"y":0.0009,"dir":32,"mag":32.8},{"x":0.099,"y":0.00105,"dir":36,"mag":30.5},{"x":0.099,"y":0.0012,"dir":40,"mag":28},{"x":0.099,"y":0.00135,"dir":43,"mag":26.1},{"x":0.099,"y":0.0015,"dir":46,"mag":24.3},{"x":0.099,"y":0.00165,"dir":49,"mag":22.6},{"x":0.099,"y":0.0018,"dir":51,"mag":21.4},{"x":0.099,"y":0.00195,"dir":54,"mag":19.6},{"x":0.099,"y":0.0021,"dir":56,"mag":18.5},{"x":0.099,"y":0.00225,"dir":57,"mag":18},{"x":0.099,"y":0.0024,"dir":59,"mag":16.8},{"x":0.099,"y":0.00255,"dir":61,"mag":15.9},{"x":0.099,"y":0.0027,"dir":62,"mag":15.3},{"x":0.099,"y":0.00285,"dir":63,"mag":14.9},{"x":0.099,"y":0.003,"dir":64,"mag":14.3},{"x":0.099,"y":0.00315,"dir":66,"mag":13.4},{"x":0.099,"y":0.0033,"dir":67,"mag":12.9},{"x":0.099,"y":0.00345,"dir":67,"mag":12.9},{"x":0.099,"y":0.0036,"dir":68,"mag":12.5},{"x":0.099,"y":0.00375,"dir":69,"mag":12},{"x":0.099,"y":0.0039,"dir":70,"mag":11.5},{"x":0.099,"y":0.00405,"dir":71,"mag":11.1},{"x":0.099,"y":0.0042,"dir":71,"mag":11.1},{"x":0.099,"y":0.00435,"dir":72,"mag":10.7},{"x":0.099,"y":0.0045,"dir":72,"mag":10.7},{"x":0.099,"y":0.00465,"dir":73,"mag":10.3},
{"x":0.0992,"y":0.00015,"dir":7,"mag":52.6},{"x":0.0992,"y":0.0003,"dir":15,"mag":50.1},{"x":0.0992,"y":0.00045,"dir":21,"mag":47.2},{"x":0.0992,"y":0.0006,"dir":28,"mag":42.8},{"x":0.0992,"y":0.00075,"dir":33,"mag":39.3},{"x":0.0992,"y":0.0009,"dir":38,"mag":35.6},{"x":0.0992,"y":0.00105,"dir":42,"mag":32.4},{"x":0.0992,"y":0.0012,"dir":46,"mag":29.4},{"x":0.0992,"y":0.00135,"dir":50,"mag":26.4},{"x":0.0992,"y":0.0015,"dir":53,"mag":24.2},{"x":0.0992,"y":0.00165,"dir":55,"mag":22.8},{"x":0.0992,"y":0.0018,"dir":57,"mag":21.5},{"x":0.0992,"y":0.00195,"dir":60,"mag":19.4},{"x":0.0992,"y":0.0021,"dir":61,"mag":18.8},{"x":0.0992,"y":0.00225,"dir":63,"mag":17.6},{"x":0.0992,"y":0.0024,"dir":64,"mag":16.8},{"x":0.0992,"y":0.00255,"dir":66,"mag":15.7},{"x":0.0992,"y":0.0027,"dir":67,"mag":15.1},{"x":0.0992,"y":0.00285,"dir":68,"mag":14.6},{"x":0.0992,"y":0.003,"dir":69,"mag":14},{"x":0.0992,"y":0.00315,"dir":70,"mag":13.4},{"x":0.0992,"y":0.0033,"dir":71,"mag":12.9},{"x":0.0992,"y":0.00345,"dir":72,"mag":12.4},{"x":0.0992,"y":0.0036,"dir":72,"mag":12.4},{"x":0.0992,"y":0.00375,"dir":73,"mag":11.9},{"x":0.0992,"y":0.0039,"dir":74,"mag":11.3},{"x":0.0992,"y":0.00405,"dir":74,"mag":11.3},{"x":0.0992,"y":0.0042,"dir":75,"mag":10.8},{"x":0.0992,"y":0.00435,"dir":75,"mag":10.8},{"x":0.0992,"y":0.0045,"dir":76,"mag":10.3},{"x":0.0992,"y":0.00465,"dir":76,"mag":10.3},
{"x":0.0994,"y":0.00015,"dir":10,"mag":67.8},{"x":0.0994,"y":0.0003,"dir":19,"mag":62.9},{"x":0.0994,"y":0.00045,"dir":28,"mag":55.7},{"x":0.0994,"y":0.0006,"dir":35,"mag":49.1},{"x":0.0994,"y":0.00075,"dir":41,"mag":43},{"x":0.0994,"y":0.0009,"dir":46,"mag":37.9},{"x":0.0994,"y":0.00105,"dir":51,"mag":33},{"x":0.0994,"y":0.0012,"dir":54,"mag":30},{"x":0.0994,"y":0.00135,"dir":57,"mag":27.3},{"x":0.0994,"y":0.0015,"dir":60,"mag":24.6},{"x":0.0994,"y":0.00165,"dir":62,"mag":22.9},{"x":0.0994,"y":0.0018,"dir":64,"mag":21.1},{"x":0.0994,"y":0.00195,"dir":66,"mag":19.6},{"x":0.0994,"y":0.0021,"dir":68,"mag":18.1},{"x":0.0994,"y":0.00225,"dir":69,"mag":17.3},{"x":0.0994,"y":0.0024,"dir":70,"mag":16.6},{"x":0.0994,"y":0.00255,"dir":71,"mag":15.8},{"x":0.0994,"y":0.0027,"dir":72,"mag":15.2},{"x":0.0994,"y":0.00285,"dir":73,"mag":14.5},{"x":0.0994,"y":0.003,"dir":74,"mag":13.8},{"x":0.0994,"y":0.00315,"dir":75,"mag":13.1},{"x":0.0994,"y":0.0033,"dir":75,"mag":13.1},{"x":0.0994,"y":0.00345,"dir":76,"mag":12.5},{"x":0.0994,"y":0.0036,"dir":77,"mag":11.8},{"x":0.0994,"y":0.00375,"dir":77,"mag":11.8},{"x":0.0994,"y":0.0039,"dir":78,"mag":11.1},{"x":0.0994,"y":0.00405,"dir":78,"mag":11.1},{"x":0.0994,"y":0.0042,"dir":78,"mag":11.1},{"x":0.0994,"y":0.00435,"dir":79,"mag":10.5},{"x":0.0994,"y":0.0045,"dir":79,"mag":10.5},{"x":0.0994,"y":0.00465,"dir":80,"mag":9.9},
{"x":0.0996,"y":0.00015,"dir":15,"mag":110},{"x":0.0996,"y":0.0003,"dir":28,"mag":81.5},{"x":0.0996,"y":0.00045,"dir":38,"mag":67.2},{"x":0.0996,"y":0.0006,"dir":46,"mag":54.9},{"x":0.0996,"y":0.00075,"dir":53,"mag":44.5},{"x":0.0996,"y":0.0009,"dir":57,"mag":38.9},{"x":0.0996,"y":0.00105,"dir":61,"mag":33.6},{"x":0.0996,"y":0.0012,"dir":64,"mag":29.7},{"x":0.0996,"y":0.00135,"dir":67,"mag":26.2},{"x":0.0996,"y":0.0015,"dir":69,"mag":24},{"x":0.0996,"y":0.00165,"dir":71,"mag":21.8},{"x":0.0996,"y":0.0018,"dir":72,"mag":20.8},{"x":0.0996,"y":0.00195,"dir":74,"mag":18.7},{"x":0.0996,"y":0.0021,"dir":75,"mag":17.6},{"x":0.0996,"y":0.00225,"dir":76,"mag":16.7},{"x":0.0996,"y":0.0024,"dir":77,"mag":15.7},{"x":0.0996,"y":0.00255,"dir":77,"mag":15.7},{"x":0.0996,"y":0.0027,"dir":78,"mag":14.7},{"x":0.0996,"y":0.00285,"dir":79,"mag":12.5},{"x":0.0996,"y":0.003,"dir":79,"mag":12.5},{"x":0.0996,"y":0.00315,"dir":80,"mag":12},{"x":0.0996,"y":0.0033,"dir":80,"mag":12},{"x":0.0996,"y":0.00345,"dir":81,"mag":11},{"x":0.0996,"y":0.0036,"dir":81,"mag":11},{"x":0.0996,"y":0.00375,"dir":81,"mag":11},{"x":0.0996,"y":0.0039,"dir":82,"mag":10.5},{"x":0.0996,"y":0.00405,"dir":82,"mag":10.5},{"x":0.0996,"y":0.0042,"dir":82,"mag":10.5},{"x":0.0996,"y":0.00435,"dir":83,"mag":10},{"x":0.0996,"y":0.0045,"dir":83,"mag":10},{"x":0.0996,"y":0.00465,"dir":83,"mag":10},
{"x":0.0998,"y":0.00015,"dir":28,"mag":175},{"x":0.0998,"y":0.0003,"dir":46,"mag":110},{"x":0.0998,"y":0.00045,"dir":57,"mag":77},{"x":0.0998,"y":0.0006,"dir":64,"mag":55.3},{"x":0.0998,"y":0.00075,"dir":69,"mag":44},{"x":0.0998,"y":0.0009,"dir":72,"mag":37.6},{"x":0.0998,"y":0.00105,"dir":75,"mag":31.3},{"x":0.0998,"y":0.0012,"dir":77,"mag":27.4},{"x":0.0998,"y":0.00135,"dir":78,"mag":25.4},{"x":0.0998,"y":0.0015,"dir":79,"mag":23.6},{"x":0.0998,"y":0.00165,"dir":80,"mag":21.7},{"x":0.0998,"y":0.0018,"dir":81,"mag":19.9},{"x":0.0998,"y":0.00195,"dir":82,"mag":16},{"x":0.0998,"y":0.0021,"dir":82,"mag":15},{"x":0.0998,"y":0.00225,"dir":83,"mag":14},{"x":0.0998,"y":0.0024,"dir":83,"mag":13},{"x":0.0998,"y":0.00255,"dir":84,"mag":12.5},{"x":0.0998,"y":0.0027,"dir":84,"mag":12},{"x":0.0998,"y":0.00285,"dir":84,"mag":11.5},{"x":0.0998,"y":0.003,"dir":85,"mag":11},{"x":0.0998,"y":0.00315,"dir":85,"mag":11},{"x":0.0998,"y":0.0033,"dir":85,"mag":11},{"x":0.0998,"y":0.00345,"dir":85,"mag":11},{"x":0.0998,"y":0.0036,"dir":85,"mag":11},{"x":0.0998,"y":0.00375,"dir":86,"mag":10},{"x":0.0998,"y":0.0039,"dir":86,"mag":10},{"x":0.0998,"y":0.00405,"dir":86,"mag":10},{"x":0.0998,"y":0.0042,"dir":86,"mag":10},{"x":0.0998,"y":0.00435,"dir":86,"mag":10},{"x":0.0998,"y":0.0045,"dir":86,"mag":10},{"x":0.0998,"y":0.00465,"dir":87,"mag":10}
]},
"layer":[
{"encoding":{
 "x":{"field":"x","type":"quantitative","scale":{"domain":[0.095,0.10122],"nice":false,"zero":false},
  "axis":{"orient":"bottom","values":[0.095,0.0952,0.0954,0.0956,0.0958,0.096,0.0962,0.0964,0.0966,0.0968,0.097,0.0972,0.0974,0.0976,0.0978,0.098,0.0982,0.0984,0.0986,0.0988,0.099,0.0992,0.0994,0.0996,0.0998,0.1,0.1002,0.1004,0.1006,0.1008,0.101,0.1012],
   "labelExpr":"abs(datum.value*1000-round(datum.value*1000))<0.01 ? replace(format(datum.value,'~g'),'\u2212','-') : ''",
   "tickSize":{"condition":{"test":"abs(datum.value*1000-round(datum.value*1000))<0.01","value":-10},"value":-5},
   "tickWidth":{"condition":{"test":"abs(datum.value*1000-round(datum.value*1000))<0.01","value":3},"value":2},
   "labelPadding":20,"labelFontSize":18,"labelOverlap":false,"labelFlush":false,"labelBound":false,
   "domainWidth":3,"title":"X","titleFontSize":20,"titleFontWeight":"bold","titleY":28,"titleBaseline":"top"}},
 "y":{"field":"y","type":"quantitative","scale":{"domain":[-0.001,0.00467],"nice":false,"zero":false},
  "axis":{"orient":"left","values":[-0.001,-0.0008,-0.0006,-0.0004,-0.0002,0,0.0002,0.0004,0.0006,0.0008,0.001,0.0012,0.0014,0.0016,0.0018,0.002,0.0022,0.0024,0.0026,0.0028,0.003,0.0032,0.0034,0.0036,0.0038,0.004,0.0042,0.0044,0.0046],
   "labelExpr":"abs(datum.value*1000-round(datum.value*1000))<0.01 ? replace(format(datum.value,'~g'),'\u2212','-') : ''",
   "tickSize":{"condition":{"test":"abs(datum.value*1000-round(datum.value*1000))<0.01","value":-10},"value":-5},
   "tickWidth":{"condition":{"test":"abs(datum.value*1000-round(datum.value*1000))<0.01","value":3},"value":2},
   "labelPadding":23,"labelFontSize":18,"labelOverlap":false,"labelFlush":false,"labelBound":false,
   "domainWidth":3,"title":"Y","titleFontSize":20,"titleFontWeight":"bold","titleX":-57,"titleY":220,"titleAngle":-90,"titleBaseline":"bottom","titleAlign":"center"}}
 },
 "layer":[
 {"data":{"name":"walls"},"mark":{"type":"line","color":"#d40000","strokeWidth":3},"encoding":{"order":{"field":"seq"}}},
 {"data":{"name":"vectors"},"mark":{"type":"point","shape":"M0,0L2,0M1.7,-0.09L2,0L1.7,0.09","filled":false,"color":"#dd0000","strokeWidth":1.4,"opacity":1},
  "encoding":{
   "angle":{"field":"dir","type":"quantitative","scale":null},
   "size":{"field":"mag","type":"quantitative","scale":{"type":"pow","exponent":2.1,"domain":[0,200],"range":[0,40562]},"legend":null}
  }}
 ]},
{"data":{"name":"frame"},
 "encoding":{
 "x":{"datum":0.09392,"type":"quantitative","scale":{"domain":[0.095,0.10122],"nice":false,"zero":false},
  "axis":{"orient":"bottom","values":[0.095,0.0952,0.0954,0.0956,0.0958,0.096,0.0962,0.0964,0.0966,0.0968,0.097,0.0972,0.0974,0.0976,0.0978,0.098,0.0982,0.0984,0.0986,0.0988,0.099,0.0992,0.0994,0.0996,0.0998,0.1,0.1002,0.1004,0.1006,0.1008,0.101,0.1012],
   "labelExpr":"abs(datum.value*1000-round(datum.value*1000))<0.01 ? replace(format(datum.value,'~g'),'\u2212','-') : ''",
   "tickSize":{"condition":{"test":"abs(datum.value*1000-round(datum.value*1000))<0.01","value":-10},"value":-5},
   "tickWidth":{"condition":{"test":"abs(datum.value*1000-round(datum.value*1000))<0.01","value":3},"value":2},
   "labelPadding":20,"labelFontSize":18,"labelOverlap":false,"labelFlush":false,"labelBound":false,
   "domainWidth":3,"title":"X","titleFontSize":20,"titleFontWeight":"bold","titleY":28,"titleBaseline":"top"}},
 "y":{"datum":0.005559,"type":"quantitative","scale":{"domain":[-0.001,0.00467],"nice":false,"zero":false},
  "axis":{"orient":"left","values":[-0.001,-0.0008,-0.0006,-0.0004,-0.0002,0,0.0002,0.0004,0.0006,0.0008,0.001,0.0012,0.0014,0.0016,0.0018,0.002,0.0022,0.0024,0.0026,0.0028,0.003,0.0032,0.0034,0.0036,0.0038,0.004,0.0042,0.0044,0.0046],
   "labelExpr":"abs(datum.value*1000-round(datum.value*1000))<0.01 ? replace(format(datum.value,'~g'),'\u2212','-') : ''",
   "tickSize":{"condition":{"test":"abs(datum.value*1000-round(datum.value*1000))<0.01","value":-10},"value":-5},
   "tickWidth":{"condition":{"test":"abs(datum.value*1000-round(datum.value*1000))<0.01","value":3},"value":2},
   "labelPadding":23,"labelFontSize":18,"labelOverlap":false,"labelFlush":false,"labelBound":false,
   "domainWidth":3,"title":"Y","titleFontSize":20,"titleFontWeight":"bold","titleX":-57,"titleY":220,"titleAngle":-90,"titleBaseline":"bottom","titleAlign":"center"}}
 },
 "layer":[
 {"mark":{"type":"rect","fill":"#cc0000","stroke":"#000","strokeWidth":1},
  "encoding":{"x2":{"datum":0.10216},"y2":{"datum":0.005353}}},
 {"mark":{"type":"text","align":"left","baseline":"middle","font":"DejaVu Sans","fontWeight":"bold","fontSize":13,"color":"#ffffff"},
  "encoding":{"x":{"datum":0.093968},"y":{"datum":0.005456},"text":{"field":"label"}}},
 {"mark":{"type":"rule","color":"#000","strokeWidth":2},
  "encoding":{"y2":{"datum":-0.0018}}}
 ]}
]
}
